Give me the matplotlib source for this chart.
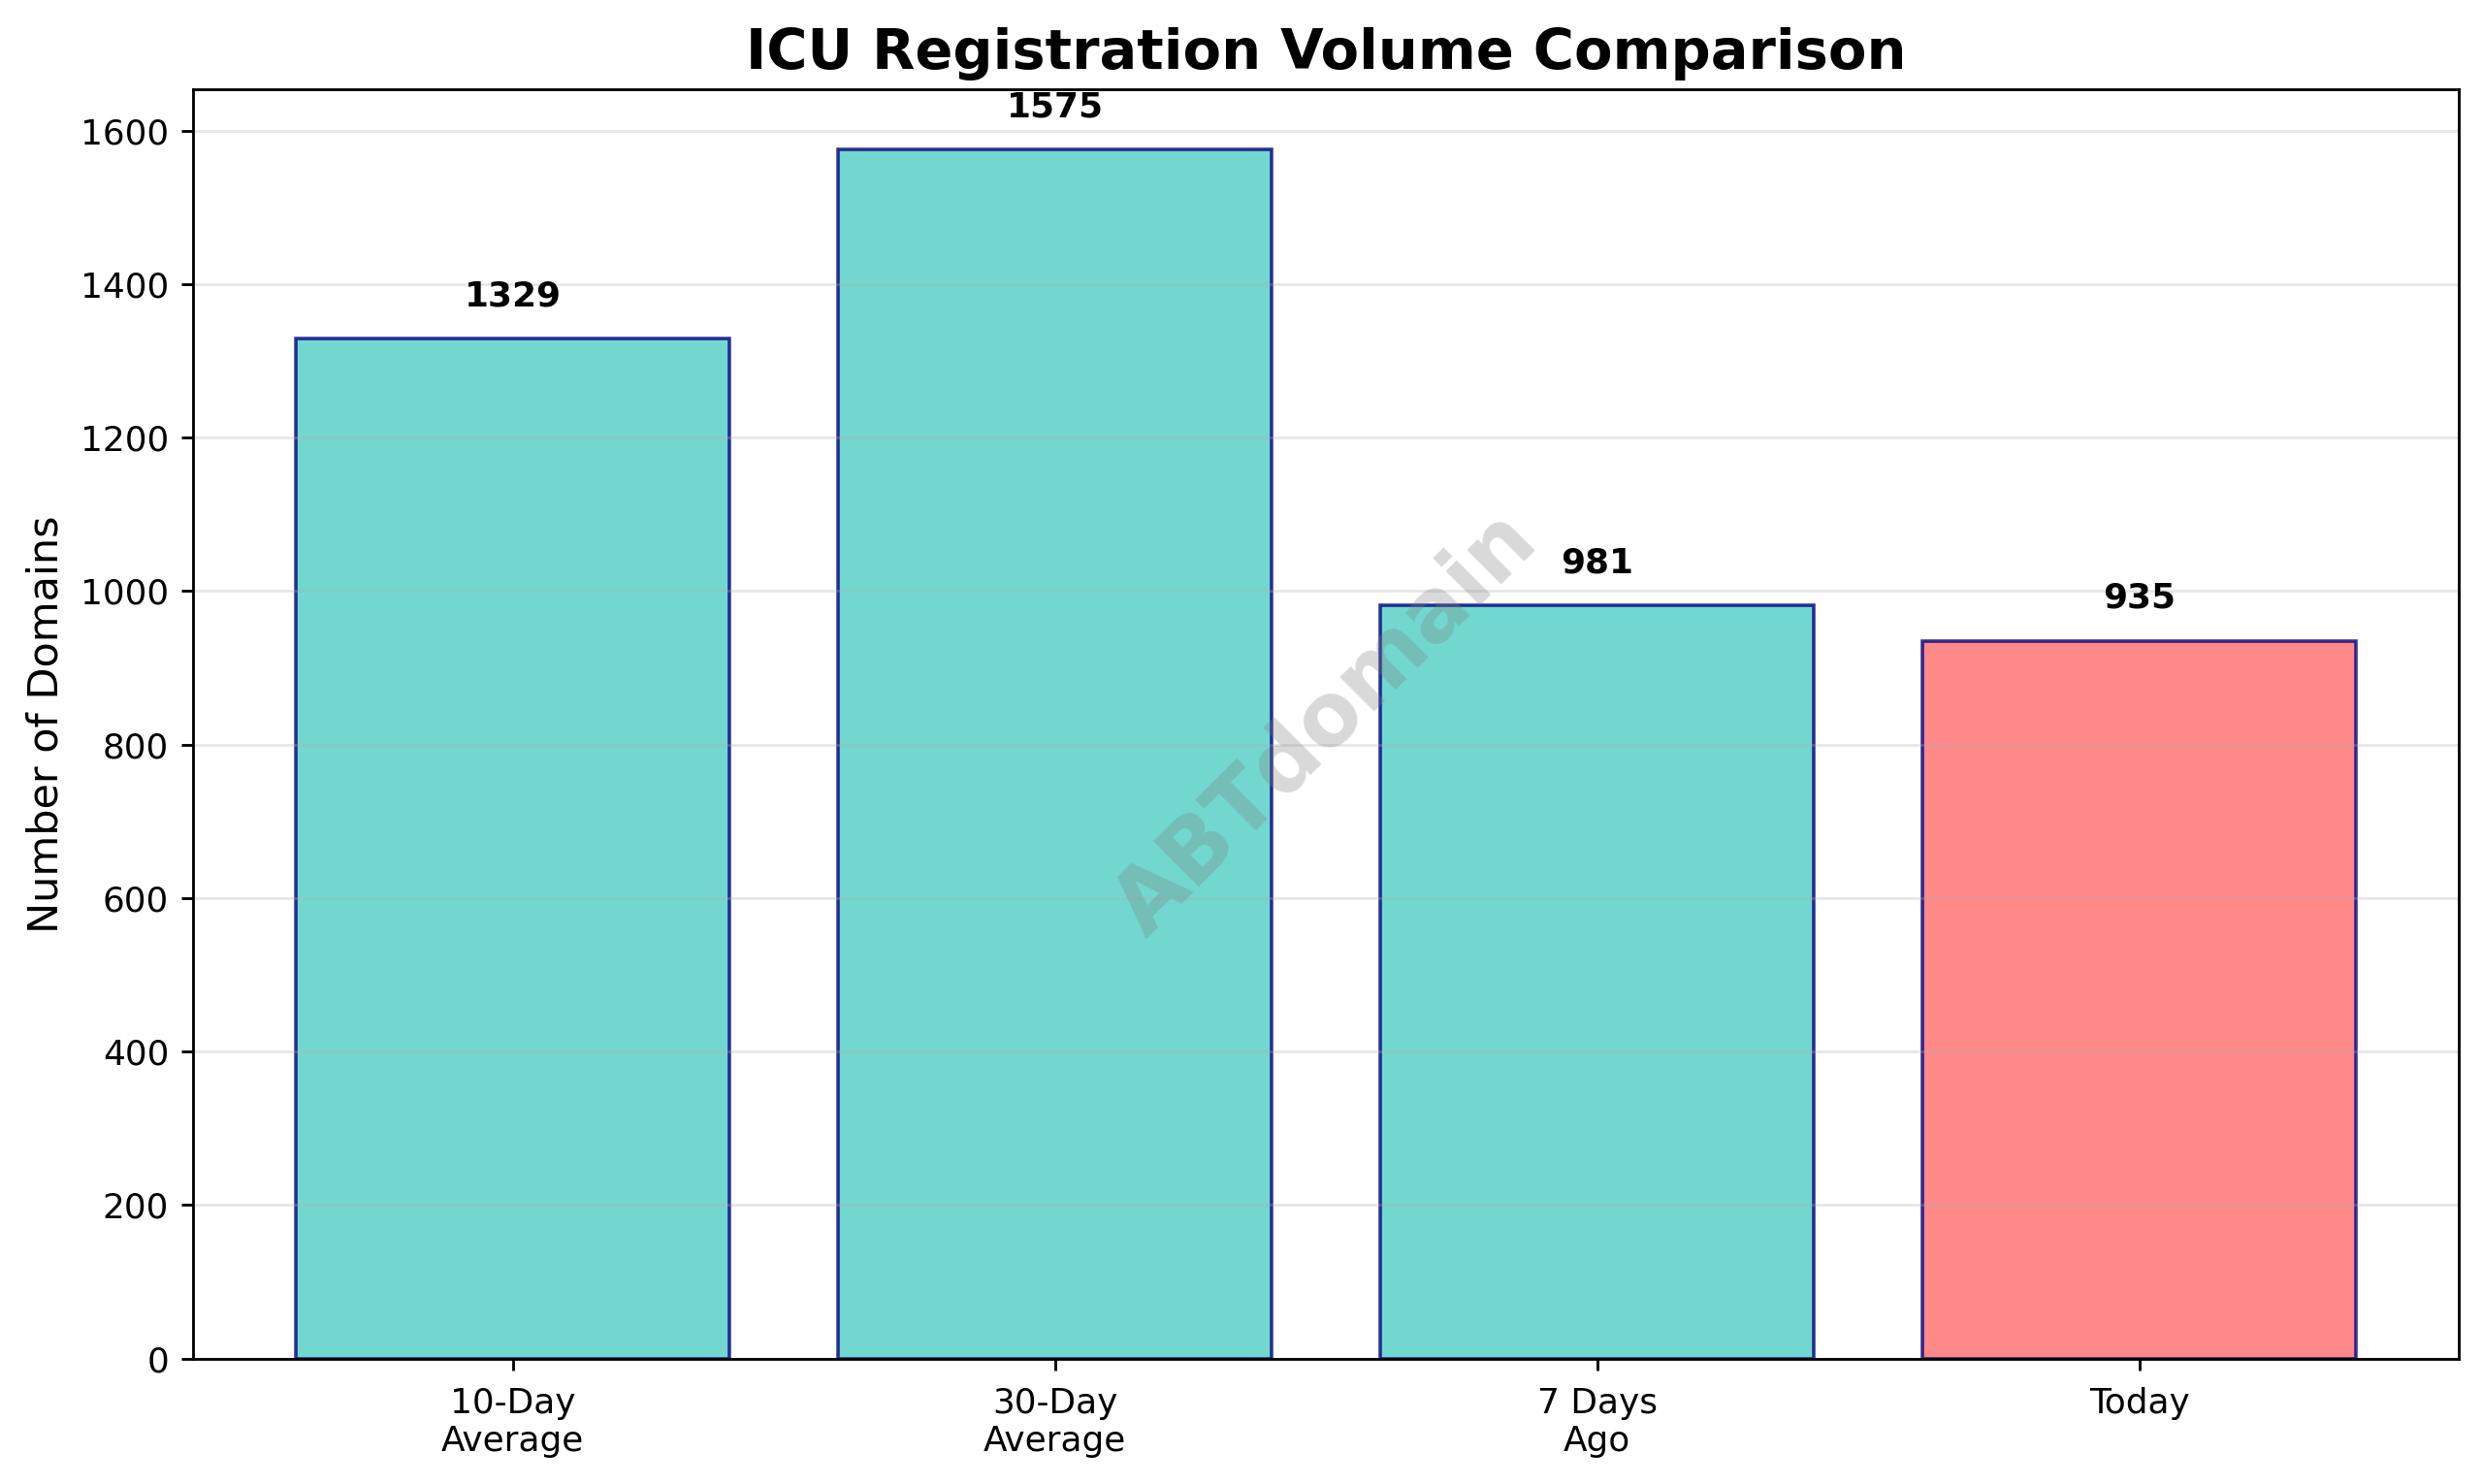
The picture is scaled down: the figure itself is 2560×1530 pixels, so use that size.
import matplotlib
matplotlib.use("Agg")
import matplotlib.pyplot as plt

categories = ["10-Day\nAverage", "30-Day\nAverage", "7 Days\nAgo", "Today"]
values = [1329, 1575, 981, 935]
colors = ["#4ECDC4", "#4ECDC4", "#4ECDC4", "#FF6B6B"]
k = 1.01

fig = plt.figure(figsize=(10, 1530 / 256), dpi=256)
ax = fig.add_axes([199 / 2560, 1 - 1400.7 / 1530, (2535.3 - 199) / 2560, (1400.7 - 92.3) / 1530])
bars = ax.bar(categories, values, color=colors, alpha=0.8, edgecolor="navy", linewidth=1)
for b, v in zip(bars, values):
    ax.text(b.get_x() + b.get_width() / 2, v + 34, str(v), ha="center", va="bottom",
            fontweight="bold", fontsize=10 * k)
ax.set_ylim(0, 1653.6)
ax.tick_params(labelsize=10 * k)
ax.tick_params(axis="x", pad=4.6)
ax.set_ylabel("Number of Domains", fontsize=12 * k)
ax.set_title("ICU Registration Volume Comparison", fontsize=16 * k, fontweight="bold")
ax.grid(axis="y", alpha=0.3)
ax.text(0.5, 0.5, "ABTdomain", transform=ax.transAxes, fontsize=25.3, fontweight="bold",
        color="gray", alpha=0.3, rotation=45, ha="center", va="center")
fig.savefig("out.png", dpi=256)
